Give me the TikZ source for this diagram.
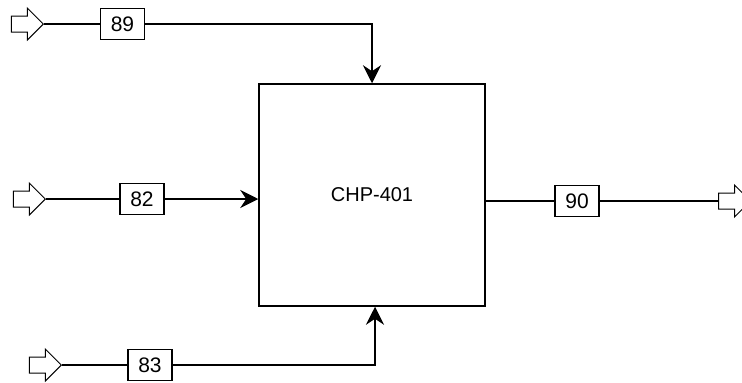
\documentclass[tikz,border=0pt]{standalone}
\usepackage{fontspec}
\setmainfont{Liberation Sans}
\usetikzlibrary{shapes.arrows, arrows.meta, positioning}
\tikzset{
    unitbox/.style={rectangle, draw=black, line width=1.5pt, minimum width=226pt, minimum height=222pt, inner sep=0pt, font=\fontsize{20}{24}\selectfont},
    tagbox/.style={rectangle, draw=black, line width=1.1pt, minimum width=44pt, minimum height=31pt, inner sep=0pt, fill=white, font=\fontsize{21}{24}\selectfont},
    portarrow/.style={single arrow, draw=black, line width=1pt, inner xsep=0pt, inner ysep=7.5pt, single arrow head extend=8pt, minimum height=32pt, shape border rotate=0},
}

\begin{document}
\begin{tikzpicture}[x=1pt, y=-1pt,
  stream/.style={black, line width=1.5pt},
  feedarr/.style={stream, -{Stealth[length=18pt, width=18pt, inset=6pt]}}
]
\useasboundingbox (0,0) rectangle (742,383);

\node[unitbox] (chp) at (372,195) {CHP-401};

% feed streams
\node[portarrow, anchor=tip] (in89) at (44,24) {};
\node[tagbox] (s89) at (122.5,24) {89};
\node[portarrow, anchor=tip] (in82) at (46,199) {};
\node[tagbox] (s82) at (142,199) {82};
\node[portarrow, anchor=tip] (in83) at (62,365) {};
\node[tagbox] (s83) at (150,365) {83};

% product stream
\node[tagbox] (s90) at (577,201) {90};
\node[portarrow, anchor=tail] (out90) at (718,201) {};

\coordinate (top89) at (chp.north |- s89);
\coordinate (bot83) at ([xshift=3pt]chp.south |- s83);

\draw[stream] (in89.tip) -- (s89.west);
\draw[feedarr] (s89.east) -- (top89) -- (top89 |- chp.north);
\draw[stream] (in82.tip) -- (s82.west);
\draw[feedarr] (s82.east) -- (chp.west |- s82);
\draw[stream] (in83.tip) -- (s83.west);
\draw[feedarr] (s83.east) -- (bot83) -- (bot83 |- chp.south);
\draw[stream] (chp.east |- s90) -- (s90.west);
\draw[stream] (s90.east) -- (out90.tail);
\end{tikzpicture}
\end{document}
